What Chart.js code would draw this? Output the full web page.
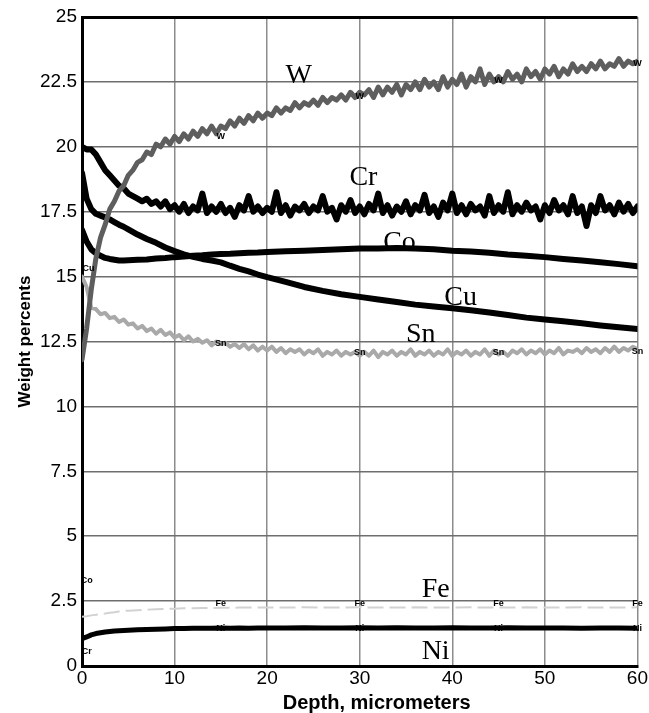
<!DOCTYPE html>
<html>
<head>
<meta charset="utf-8">
<script src="https://cdn.jsdelivr.net/npm/chart.js@4.4.1/dist/chart.umd.min.js"></script>
<style>
  html, body { margin: 0; padding: 0; background: #fff; }
  canvas { display: block; }
</style>
</head>
<body>
<canvas id="chart" width="649" height="713"></canvas>
<script>
// --- Data ---
const depthFine = [
  0, 0.5, 1, 1.5, 2, 2.5, 3, 3.5, 4, 4.5,
  5, 5.5, 6, 6.5, 7, 7.5, 8, 8.5, 9, 9.5,
  10, 10.5, 11, 11.5, 12, 12.5, 13, 13.5, 14, 14.5,
  15, 15.5, 16, 16.5, 17, 17.5, 18, 18.5, 19, 19.5,
  20, 20.5, 21, 21.5, 22, 22.5, 23, 23.5, 24, 24.5,
  25, 25.5, 26, 26.5, 27, 27.5, 28, 28.5, 29, 29.5,
  30, 30.5, 31, 31.5, 32, 32.5, 33, 33.5, 34, 34.5,
  35, 35.5, 36, 36.5, 37, 37.5, 38, 38.5, 39, 39.5,
  40, 40.5, 41, 41.5, 42, 42.5, 43, 43.5, 44, 44.5,
  45, 45.5, 46, 46.5, 47, 47.5, 48, 48.5, 49, 49.5,
  50, 50.5, 51, 51.5, 52, 52.5, 53, 53.5, 54, 54.5,
  55, 55.5, 56, 56.5, 57, 57.5, 58, 58.5, 59, 59.5,
  60
];
const depthCoarse = [
  0, 0.5, 1, 1.5, 2, 2.5, 3, 3.5, 4, 4.5, 5,
  6, 7, 8, 9, 10, 11, 12, 13, 14, 15, 16, 17, 18, 19, 20,
  22, 24, 26, 28, 30, 32, 34, 36, 38, 40, 42, 44, 46, 48, 50, 52, 54, 56, 58, 60
];

const wValues = [
  11.8, 13.0, 14.5, 15.7, 16.5, 17.0, 17.6, 17.9, 18.3, 18.5,
  18.9, 19.1, 19.4, 19.5, 19.8, 19.7, 20.1, 20.0, 20.3, 20.1,
  20.4, 20.2, 20.5, 20.3, 20.6, 20.4, 20.7, 20.5, 20.8, 20.5,
  20.8, 20.7, 21.0, 20.8, 21.1, 20.9, 21.2, 21.0, 21.3, 21.1,
  21.3, 21.2, 21.5, 21.3, 21.5, 21.4, 21.7, 21.5, 21.7, 21.6,
  21.8, 21.6, 21.9, 21.7, 21.9, 21.8, 22.0, 21.8, 22.1, 21.9,
  22.1, 22.0, 22.2, 21.9, 22.3, 22.0, 22.3, 22.1, 22.4, 22.0,
  22.4, 22.2, 22.5, 22.2, 22.6, 22.3, 22.5, 22.2, 22.7, 22.3,
  22.6, 22.4, 22.8, 22.3, 22.7, 22.5, 23.0, 22.4, 22.8, 22.5,
  22.7, 22.5, 22.9, 22.6, 22.8, 22.5, 23.0, 22.7, 22.9, 22.6,
  23.0, 22.8, 23.1, 22.7, 23.0, 22.8, 23.2, 22.9, 23.1, 22.9,
  23.2, 23.0, 23.3, 23.0, 23.2, 23.1, 23.4, 23.1, 23.3, 23.2,
  23.3
];
const crValues = [
  20.0, 19.9, 19.9, 19.7, 19.4, 19.1, 18.9, 18.7, 18.5, 18.4,
  18.2, 18.1, 18.0, 17.9, 18.0, 17.8, 17.9, 17.7, 17.9, 17.6,
  17.75, 17.5, 17.8, 17.45, 17.7, 17.55, 18.2, 17.45, 17.7, 17.5,
  17.8, 17.45, 17.65, 17.3, 17.75, 17.55, 18.1, 17.5, 17.7, 17.45,
  17.65, 17.5, 18.25, 17.45, 17.75, 17.35, 17.7, 17.55, 17.8, 17.45,
  17.7, 17.55, 18.1, 17.5, 17.65, 17.2, 17.75, 17.5, 17.95, 17.45,
  17.7, 17.4, 17.8, 17.55, 18.2, 17.45, 17.75, 17.35, 17.7, 17.5,
  17.9, 17.4, 17.75, 17.55, 18.15, 17.45, 17.7, 17.3, 17.85, 17.55,
  18.2, 17.45, 17.75, 17.4, 17.8, 17.55, 17.7, 17.35, 18.1, 17.45,
  17.75, 17.5, 18.25, 17.4, 17.75, 17.5, 17.85, 17.55, 17.7, 17.2,
  17.75, 17.45, 17.95, 17.55, 17.75, 17.4, 18.1, 17.45, 17.7, 16.95,
  17.75, 17.45, 18.1, 17.55, 17.75, 17.4, 17.85, 17.5, 17.8, 17.45,
  17.7
];
const snValues = [
  15.0, 14.6, 13.8, 13.75, 13.55, 13.6, 13.4, 13.45, 13.25, 13.35,
  13.15, 13.2, 13.0, 13.1, 12.9, 13.0, 12.8, 12.95, 12.75, 12.85,
  12.65, 12.75, 12.55, 12.7, 12.5, 12.6, 12.45, 12.55, 12.35, 12.5,
  12.4, 12.45, 12.3, 12.4, 12.25, 12.4, 12.2, 12.35, 12.15, 12.3,
  12.15, 12.3, 12.1, 12.25, 12.05, 12.2, 12.1, 12.2, 12.0, 12.15,
  12.05, 12.2, 11.95, 12.1, 12.0, 12.15, 11.95, 12.1, 12.0, 12.1,
  11.95, 12.1, 11.95, 12.15, 11.9, 12.1, 12.0, 12.15, 11.95, 12.1,
  12.0, 12.2, 11.95, 12.1, 12.0, 12.15, 11.95, 12.1, 12.0, 12.2,
  11.95, 12.1, 12.0, 12.15, 11.95, 12.1, 12.0, 12.2, 11.95, 12.15,
  12.0, 12.1, 11.95, 12.15, 12.05, 12.2, 12.0, 12.15, 12.05, 12.2,
  12.0, 12.15, 12.05, 12.25, 12.0, 12.15, 12.1, 12.2, 12.05, 12.25,
  12.1, 12.2, 12.05, 12.25, 12.1, 12.3, 12.1, 12.25, 12.15, 12.3,
  12.2
];
const coValues = [
  16.8, 16.35, 16.05, 15.9, 15.8, 15.72, 15.68, 15.65, 15.62, 15.62, 15.63,
  15.65, 15.66, 15.7, 15.72, 15.75, 15.77, 15.8, 15.82, 15.85, 15.87, 15.88, 15.9, 15.92, 15.93, 15.95,
  15.98, 16.0, 16.02, 16.05, 16.08, 16.08, 16.1, 16.08, 16.05, 16.0, 15.97, 15.92, 15.85, 15.8, 15.75, 15.68, 15.62, 15.55, 15.48, 15.4
];
const cuValues = [
  19.0, 18.0, 17.6, 17.42, 17.35, 17.28, 17.2, 17.1, 17.0, 16.92, 16.82,
  16.62, 16.45, 16.3, 16.12, 15.98, 15.86, 15.76, 15.68, 15.62, 15.55, 15.42, 15.3, 15.2, 15.08, 14.98,
  14.8, 14.6, 14.45, 14.32, 14.22, 14.12, 14.02, 13.92, 13.85, 13.78, 13.7, 13.62, 13.52, 13.42, 13.35, 13.28, 13.2, 13.12, 13.05, 12.98
];
const feValues = [
  1.9, 1.92, 1.95, 1.97, 2.0, 2.02, 2.05, 2.07, 2.1, 2.12, 2.13,
  2.15, 2.17, 2.19, 2.2, 2.21, 2.22, 2.22, 2.23, 2.23, 2.24, 2.24, 2.25, 2.25, 2.25, 2.25,
  2.25, 2.26, 2.25, 2.25, 2.26, 2.25, 2.25, 2.26, 2.25, 2.25, 2.26, 2.25, 2.25, 2.26, 2.25, 2.25, 2.26, 2.25, 2.25, 2.26
];
const niValues = [
  1.05, 1.12, 1.2, 1.25, 1.28, 1.31, 1.33, 1.35, 1.36, 1.37, 1.38,
  1.4, 1.41, 1.42, 1.43, 1.44, 1.44, 1.45, 1.45, 1.45, 1.46, 1.45, 1.46, 1.45, 1.46, 1.46,
  1.46, 1.47, 1.46, 1.46, 1.47, 1.46, 1.47, 1.46, 1.46, 1.47, 1.46, 1.46, 1.47, 1.46, 1.46, 1.46, 1.45, 1.46, 1.46, 1.45
];

const yTickLabels = ['0', '2.5', '5', '7.5', '10', '12.5', '15', '17.5', '20', '22.5', '25'];
const xTickLabels = ['0', '10', '20', '30', '40', '50', '60'];
const xTitle = 'Depth, micrometers';
const yTitle = 'Weight percents';

// curve names written next to the lines
const curveNames = ['W', 'Cr', 'Co', 'Cu', 'Sn', 'Fe', 'Ni'];
const curveNameX = [23.4, 30.4, 34.3, 40.9, 36.6, 38.2, 38.2];
const curveNameY = [22.75, 18.8, 16.3, 14.2, 12.75, 2.93, 0.55];

// tiny marker tags sitting on the lines
const tagText = ['W', 'W', 'W', 'W', 'Sn', 'Sn', 'Sn', 'Sn', 'Fe', 'Fe', 'Fe', 'Fe', 'Ni', 'Ni', 'Ni', 'Ni', 'Co', 'Cr', 'Cu'];
const tagX    = [15, 30, 45, 60, 15, 30, 45, 60, 15, 30, 45, 60, 15, 30, 45, 60, 0.5, 0.5, 0.7];
const tagY    = [20.38, 21.92, 22.57, 23.2, 12.44, 12.06, 12.06, 12.13, 2.39, 2.39, 2.39, 2.39, 1.46, 1.46, 1.46, 1.46, 3.3, 0.55, 15.3];

// --- Helpers ---
function toPoints(xs, ys) {
  return xs.map((x, i) => ({ x: x, y: ys[i] }));
}

function line(label, xs, ys, color, width, dash) {
  return {
    label: label,
    data: toPoints(xs, ys),
    borderColor: color,
    borderWidth: width,
    borderDash: dash || [],
    borderJoinStyle: 'round',
    borderCapStyle: dash ? 'butt' : 'round',
    pointRadius: 0,
    tension: 0,
    fill: false,
  };
}

const SANS = '"Liberation Sans", Arial, sans-serif';

// --- Text on the plot ---
const labelPlugin = {
  id: 'curveLabels',
  afterDatasetsDraw(chart) {
    const { ctx, chartArea, scales: { x, y } } = chart;
    ctx.save();
    ctx.fillStyle = '#000';
    ctx.textAlign = 'center';
    ctx.textBaseline = 'middle';

    ctx.font = '28px "Liberation Serif", "Times New Roman", serif';
    curveNames.forEach((t, i) => {
      ctx.fillText(t, x.getPixelForValue(curveNameX[i]), y.getPixelForValue(curveNameY[i]));
    });

    ctx.font = 'bold 9px ' + SANS;
    tagText.forEach((t, i) => {
      ctx.fillText(t, x.getPixelForValue(tagX[i]), y.getPixelForValue(tagY[i]));
    });

    // axis title below, sits a little right of centre in the original
    ctx.font = 'bold 20px ' + SANS;
    ctx.fillText(xTitle, (chartArea.left + chartArea.right) / 2 + 17, 703);
    ctx.restore();
  }
};

// --- Chart ---
const tickFont = { family: SANS, size: 19 };

new Chart(document.getElementById('chart'), {
  type: 'line',
  data: {
    datasets: [
      line('W',  depthFine,   wValues,  '#5e5e5e', 5),
      line('Sn', depthFine,   snValues, '#a9a9a9', 4),
      line('Cr', depthFine,   crValues, '#000', 6),
      line('Co', depthCoarse, coValues, '#000', 6),
      line('Cu', depthCoarse, cuValues, '#000', 6),
      line('Fe', depthCoarse, feValues, '#d2d2d2', 2, [16, 6]),
      line('Ni', depthCoarse, niValues, '#000', 5),
    ]
  },
  options: {
    responsive: false,
    animation: false,
    layout: { padding: { top: 17, right: 9, left: 0, bottom: 0 } },
    plugins: { legend: { display: false }, tooltip: { enabled: false } },
    scales: {
      x: {
        type: 'linear',
        min: 0,
        max: 60,
        afterFit: s => { s.height = 47; },
        ticks: {
          stepSize: 10,
          color: '#000',
          font: tickFont,
          padding: 1,
          maxRotation: 0,
          callback: v => xTickLabels[Math.round(v / 10)],
        },
        grid: { color: '#8c8c8c', lineWidth: 1.5, drawTicks: false },
        border: { color: '#000', width: 3 },
      },
      y: {
        min: 0,
        max: 25,
        afterFit: s => { s.width = 82; },
        ticks: {
          stepSize: 2.5,
          color: '#000',
          font: tickFont,
          padding: 5,
          callback: v => yTickLabels[Math.round(v / 2.5)],
        },
        grid: {
          color: c => c.tick && c.tick.value === 25 ? '#000' : '#6e6e6e',
          lineWidth: c => c.tick && c.tick.value === 25 ? 3 : 1.5,
          drawTicks: false,
        },
        border: { color: '#000', width: 3 },
        title: {
          display: true,
          text: yTitle,
          color: '#000',
          font: { family: SANS, size: 17, weight: 'bold' },
          padding: { top: 15, bottom: 0 },
        },
      }
    }
  },
  plugins: [labelPlugin]
});
</script>
</body>
</html>
